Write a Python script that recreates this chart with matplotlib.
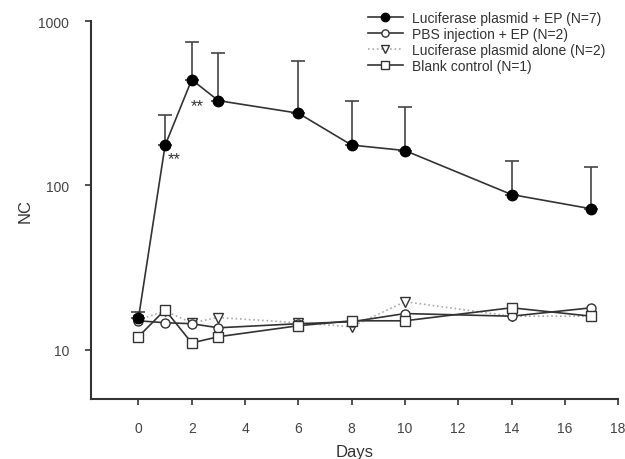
import matplotlib
matplotlib.use('Agg')
import matplotlib.pyplot as plt

plt.rcParams['font.family'] = ['Liberation Sans', 'DejaVu Sans']

days = [0, 1, 2, 3, 6, 8, 10, 14, 17]

# Luciferase plasmid + EP (mean, upper error)
luc_ep = [15.5, 175, 440, 328, 275, 176, 163, 88, 72]
luc_ep_err = [1.5, 92, 305, 315, 300, 151, 136, 52, 57]

pbs_ep = [15, 14.6, 14.4, 13.6, 14.4, 14.8, 16.6, 16, 18]
luc_alone = [15.2, 17.2, 14.6, 15.7, 14.6, 13.8, 19.6, 16, 16]
blank = [12, 17.5, 11, 12, 14, 15, 15, 18, 16]

labels = ['Luciferase plasmid + EP (N=7)', 'PBS injection + EP (N=2)',
          'Luciferase plasmid alone (N=2)', 'Blank control (N=1)']

# significance marks
star_x = [1.35, 2.2]
star_y = [146, 305]

fig = plt.figure(figsize=(6.25, 4.6), dpi=100)
ax = fig.add_axes([0.146, 0.130, 0.843, 0.822])

ax.errorbar(days, luc_ep, yerr=[[0] * len(days), luc_ep_err], fmt='none',
            ecolor='#444444', elinewidth=1.2, capsize=5, capthick=1.2, zorder=2)
ax.plot(days, luc_ep, color='#333333', lw=1.2, marker='o', ms=7.5,
        mfc='black', mec='black', label=labels[0], zorder=5)
ax.plot(days, pbs_ep, color='#333333', lw=1.2, marker='o', ms=6.5,
        mfc='white', mec='#333333', label=labels[1], zorder=4)
ax.plot(days, luc_alone, color='#aaaaaa', lw=1.2, ls=':', marker='v', ms=7,
        mfc='white', mec='#333333', label=labels[2], zorder=3)
ax.plot(days, blank, color='#333333', lw=1.2, marker='s', ms=6.5,
        mfc='white', mec='#333333', label=labels[3], zorder=4)

for x, y in zip(star_x, star_y):
    ax.text(x, y, '**', fontsize=12, ha='center', va='center', color='#333333')

ax.set_yscale('log')
ax.set_ylim(5, 1000)
ax.set_xlim(-1.77, 18)
ax.set_yticks([10, 100, 1000])
ax.set_yticklabels(['10', '100', '1000'])
ax.minorticks_off()
ax.set_xticks(range(0, 19, 2))

ax.spines['top'].set_visible(False)
ax.spines['right'].set_visible(False)
for s in ['left', 'bottom']:
    ax.spines[s].set_linewidth(1.5)
    ax.spines[s].set_color('#333333')
ax.tick_params(direction='out', length=4, width=1.2, colors='#333333',
               labelcolor='#444444', labelsize=10, pad=12)

ax.set_xlabel('Days', fontsize=12, color='#333333', labelpad=6)
ax.set_ylabel('NC', fontsize=12, color='#333333', labelpad=4)

ax.legend(loc='upper right', bbox_to_anchor=(1.0, 1.06), frameon=False,
          fontsize=10, handlelength=2.5, handletextpad=0.7, labelspacing=0.15,
          markerscale=0.8, labelcolor='#333333')

fig.savefig('out.png', dpi=100)
